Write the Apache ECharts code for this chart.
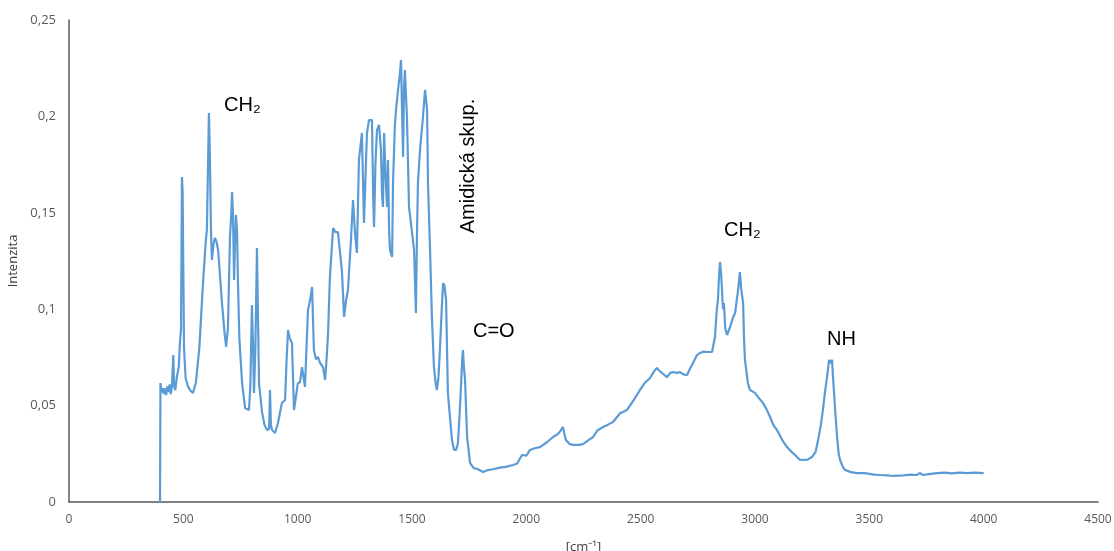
<!DOCTYPE html>
<html>
<head>
<meta charset="utf-8">
<script src="https://cdn.jsdelivr.net/npm/echarts@6/dist/echarts.min.js"></script>
<style>html,body{margin:0;padding:0;background:#fff}#c{width:1114px;height:551px}</style>
</head>
<body>
<div id="c"></div>
<script>
// Wavenumber [cm-1]
const wavenumbers = [398,400,405,410,415,420,425,430,435,440,445,450,456,460,465,472,480,485,490,494,497,500,503,510,520,530,542,555,570,586,598,603,608,612,616,621,625,632,638,645,652,660,669,680,687,695,704,710,713,717,722,726,730,735,739,745,757,770,787,793,800,805,809,815,822,826,831,844,855,866,875,879,883,888,901,914,931,945,952,958,965,975,984,1001,1010,1019,1032,1045,1055,1063,1071,1080,1089,1098,1111,1120,1127,1133,1141,1155,1165,1176,1185,1194,1203,1212,1220,1233,1242,1251,1259,1268,1275,1281,1290,1297,1303,1312,1318,1325,1330,1334,1340,1347,1356,1364,1369,1373,1378,1384,1391,1395,1400,1404,1413,1417,1425,1430,1439,1447,1452,1457,1461,1465,1469,1474,1478,1487,1495,1500,1509,1513,1517,1522,1526,1535,1548,1557,1562,1566,1570,1579,1587,1596,1603,1609,1616,1622,1630,1636,1642,1649,1657,1666,1675,1684,1693,1701,1708,1714,1720,1723,1727,1732,1741,1754,1770,1789,1810,1830,1854,1885,1910,1942,1960,1981,2000,2016,2040,2060,2090,2117,2140,2150,2160,2165,2173,2190,2204,2230,2248,2270,2292,2310,2335,2355,2379,2410,2440,2470,2497,2520,2541,2560,2571,2582,2593,2615,2630,2641,2660,2672,2690,2703,2715,2729,2745,2760,2775,2790,2812,2825,2833,2838,2843,2847,2852,2856,2860,2864,2870,2878,2891,2905,2913,2926,2934,2940,2948,2952,2956,2969,2978,3000,3013,3035,3052,3066,3080,3096,3120,3140,3160,3175,3195,3210,3230,3249,3265,3276,3288,3297,3306,3315,3324,3328,3332,3337,3341,3345,3352,3359,3366,3372,3385,3394,3420,3446,3480,3520,3547,3580,3604,3650,3680,3708,3720,3735,3760,3796,3830,3860,3896,3930,3960,4000];
// Intenzita
const intensity = [0,0.0617,0.0570,0.0590,0.0560,0.0590,0.0555,0.0600,0.0570,0.0610,0.0560,0.0600,0.0762,0.0600,0.0580,0.0650,0.0700,0.0825,0.0900,0.1686,0.1600,0.1200,0.0800,0.0643,0.0600,0.0580,0.0565,0.0620,0.0800,0.1136,0.1350,0.1411,0.1750,0.2018,0.1800,0.1400,0.1255,0.1340,0.1369,0.1350,0.1307,0.1180,0.1032,0.0880,0.0804,0.0900,0.1375,0.1500,0.1608,0.1500,0.1152,0.1350,0.1489,0.1400,0.1136,0.0850,0.0617,0.0488,0.0477,0.0600,0.1022,0.0800,0.0565,0.0800,0.1317,0.1000,0.0617,0.0467,0.0400,0.0373,0.0380,0.0581,0.0400,0.0373,0.0358,0.0410,0.0514,0.0529,0.0750,0.0892,0.0850,0.0825,0.0477,0.0617,0.0620,0.0700,0.0597,0.0996,0.1050,0.1115,0.0788,0.0740,0.0752,0.0721,0.0700,0.0633,0.0750,0.0877,0.1167,0.1421,0.1400,0.1400,0.1300,0.1188,0.0960,0.1050,0.1100,0.1359,0.1566,0.1395,0.1292,0.1774,0.1850,0.1914,0.1447,0.1700,0.1914,0.1981,0.1980,0.1981,0.1600,0.1426,0.1750,0.1930,0.1956,0.1826,0.1600,0.1530,0.1914,0.1700,0.1530,0.1774,0.1400,0.1307,0.1271,0.1655,0.1950,0.2033,0.2137,0.2220,0.2293,0.2000,0.1790,0.2150,0.2241,0.2100,0.1997,0.1530,0.1450,0.1447,0.1307,0.1150,0.0980,0.1400,0.1655,0.1826,0.1997,0.2137,0.2080,0.2033,0.1655,0.1307,0.0960,0.0700,0.0620,0.0581,0.0650,0.0788,0.1000,0.1136,0.1120,0.1048,0.0565,0.0441,0.0320,0.0270,0.0270,0.0306,0.0450,0.0597,0.0750,0.0788,0.0700,0.0633,0.0337,0.0202,0.0176,0.0170,0.0156,0.0165,0.0170,0.0178,0.0182,0.0192,0.0200,0.0244,0.0240,0.0270,0.0280,0.0285,0.0310,0.0337,0.0355,0.0370,0.0389,0.0360,0.0322,0.0300,0.0296,0.0296,0.0300,0.0320,0.0337,0.0370,0.0389,0.0400,0.0415,0.0460,0.0477,0.0530,0.0581,0.0620,0.0643,0.0680,0.0695,0.0680,0.0669,0.0648,0.0670,0.0674,0.0670,0.0674,0.0660,0.0659,0.0690,0.0721,0.0760,0.0773,0.0780,0.0778,0.0778,0.0856,0.1000,0.1048,0.1180,0.1245,0.1180,0.1188,0.1000,0.1032,0.0900,0.0866,0.0908,0.0960,0.0980,0.1100,0.1193,0.1100,0.1032,0.0850,0.0737,0.0616,0.0581,0.0566,0.0545,0.0514,0.0477,0.0441,0.0400,0.0373,0.0320,0.0285,0.0260,0.0244,0.0220,0.0218,0.0220,0.0233,0.0260,0.0322,0.0400,0.0477,0.0570,0.0648,0.0737,0.0720,0.0721,0.0737,0.0650,0.0581,0.0450,0.0337,0.0250,0.0218,0.0180,0.0166,0.0155,0.0150,0.0150,0.0142,0.0140,0.0138,0.0135,0.0138,0.0142,0.0140,0.0150,0.0140,0.0145,0.0150,0.0152,0.0148,0.0152,0.0150,0.0152,0.0150];
const xTicks = [0,500,1000,1500,2000,2500,3000,3500,4000,4500];
const yTicks = [0,0.05,0.1,0.15,0.2,0.25];
const annotations = ['CH₂','Amidická skup.','C=O','CH₂','NH'];

const chart = echarts.init(document.getElementById('c'), null, {renderer:'canvas'});
const seriesData = wavenumbers.map((w,i)=>[w,intensity[i]]);
const labelFont = {fontFamily:'Liberation Sans, Arial, sans-serif', fontSize:20, fill:'#000'};
chart.setOption({
  animation:false,
  backgroundColor:'#fff',
  grid:{left:69,right:16,top:20,bottom:49,containLabel:false,outerBoundsMode:'none'},
  xAxis:{
    type:'value', min:xTicks[0], max:xTicks[xTicks.length-1], interval:500,
    name:'[cm⁻¹]', nameLocation:'middle', nameGap:39,
    nameTextStyle:{color:'#404040',fontSize:13,fontFamily:'Open Sans, sans-serif'},
    axisLine:{show:true,onZero:false,lineStyle:{color:'#595959',width:1.5}},
    axisTick:{show:false}, splitLine:{show:false},
    axisLabel:{color:'#595959',fontSize:12,margin:12,fontFamily:'Open Sans, sans-serif',
      formatter:v=>String(Math.round(v))}
  },
  yAxis:{
    type:'value', min:yTicks[0], max:yTicks[yTicks.length-1], interval:0.05,
    name:'Intenzita', nameLocation:'middle', nameGap:40, nameRotate:90,
    nameTextStyle:{color:'#404040',fontSize:13,fontFamily:'Open Sans, sans-serif'},
    axisLine:{show:true,lineStyle:{color:'#595959',width:1.5}},
    axisTick:{show:false}, splitLine:{show:false},
    axisLabel:{color:'#595959',fontSize:13,margin:13,fontFamily:'Open Sans, sans-serif',
      formatter:v=>String(+v.toFixed(2)).replace('.',',')}
  },
  series:[{
    type:'line', data:seriesData, showSymbol:false, symbol:'none',
    lineStyle:{color:'#5b9bd5',width:2.2}, itemStyle:{color:'#5b9bd5'}
  }],
  graphic:[
    {type:'text',left:224,top:95,style:Object.assign({text:annotations[0]},labelFont)},
    {type:'text',x:468,y:166,rotation:Math.PI/2,style:Object.assign({text:annotations[1],align:'center',verticalAlign:'middle'},labelFont)},
    {type:'text',left:473,top:321,style:Object.assign({text:annotations[2]},labelFont)},
    {type:'text',left:724,top:220,style:Object.assign({text:annotations[3]},labelFont)},
    {type:'text',left:827,top:329,style:Object.assign({text:annotations[4]},labelFont)}
  ]
});
</script>
</body>
</html>
